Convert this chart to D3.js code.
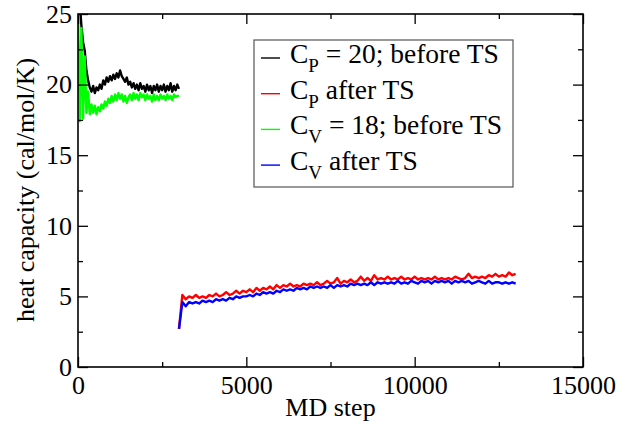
<!DOCTYPE html>
<html>
<head>
<meta charset="utf-8">
<script src="https://cdn.jsdelivr.net/npm/d3@7"></script>
<style>
  body { margin: 0; background: #fff; }
</style>
</head>
<body>
<div id="chart"></div>
<script>
const FONT = "'Liberation Serif', 'DejaVu Serif', serif";

// plot box
let margin = {top: 14, right: 58, bottom: 57, left: 78},
    width = 641 - margin.left - margin.right,
    height = 424 - margin.top - margin.bottom;

// MD steps (every 50 before TS, every 100 after TS)
let stepsBefore = d3.range(0, 3001, 50);
let stepsAfter = d3.range(3000, 13001, 100);

// C_P = 20; before TS
let cpBefore = [26.5, 25.8, 24.2, 23.0, 22.4, 21.0, 20.3, 19.8, 19.5, 19.9,
  19.4, 19.8, 19.6, 20.0, 19.7, 20.3, 20.0, 20.5, 20.2, 20.6,
  20.3, 20.7, 20.4, 20.8, 20.5, 21.0, 20.6, 20.4, 20.2, 20.5,
  20.0, 20.2, 19.8, 20.1, 19.7, 20.0, 19.6, 20.1, 19.7, 19.9,
  19.5, 20.0, 19.6, 19.9, 19.4, 19.9, 19.6, 20.0, 19.5, 19.9,
  19.6, 20.0, 19.5, 19.9, 19.6, 20.1, 19.5, 19.9, 19.6, 20.0, 19.7];

// C_V = 18; before TS
let cvBefore = [25.5, 17.4, 24.0, 17.6, 22.0, 18.0, 19.5, 17.9, 18.6, 18.0,
  18.5, 17.9, 18.4, 18.1, 18.6, 18.3, 18.8, 18.5, 19.0, 18.7,
  19.2, 18.8, 19.3, 18.9, 19.4, 19.0, 19.3, 18.8, 19.2, 18.7,
  19.1, 19.3, 18.9, 19.4, 19.0, 19.3, 18.9, 19.4, 19.1, 19.3,
  18.9, 19.3, 19.0, 19.2, 18.8, 19.3, 18.9, 19.2, 18.9, 19.3,
  19.0, 19.2, 18.9, 19.3, 19.0, 19.2, 18.9, 19.3, 19.1, 19.2, 19.2];

// C_P after TS
let cpAfter = [2.7, 5.1, 4.8, 5.0, 4.9, 5.1, 4.9, 5.0, 4.9, 5.1,
  5.0, 5.2, 5.0, 5.1, 5.3, 5.1, 5.2, 5.4, 5.2, 5.4,
  5.3, 5.5, 5.3, 5.6, 5.4, 5.6, 5.5, 5.7, 5.5, 5.8,
  5.6, 5.8, 5.7, 5.9, 5.7, 5.8, 5.7, 5.9, 5.8, 5.9,
  5.8, 6.0, 5.8, 5.9, 6.1, 5.9, 6.0, 6.3, 5.9, 6.1,
  6.0, 6.2, 6.0, 6.1, 6.4, 6.1, 6.3, 6.1, 6.5, 6.2,
  6.3, 6.2, 6.4, 6.2, 6.3, 6.2, 6.4, 6.2, 6.3, 6.2,
  6.4, 6.2, 6.3, 6.2, 6.3, 6.2, 6.4, 6.2, 6.3, 6.2,
  6.3, 6.2, 6.4, 6.3, 6.2, 6.3, 6.6, 6.3, 6.4, 6.3,
  6.4, 6.3, 6.5, 6.4, 6.6, 6.4, 6.5, 6.4, 6.7, 6.5, 6.6];

// C_V after TS
let cvAfter = [2.7, 4.6, 4.3, 4.6, 4.5, 4.6, 4.5, 4.7, 4.6, 4.7,
  4.6, 4.8, 4.7, 4.8, 4.7, 4.9, 4.8, 5.0, 4.9, 5.0,
  5.0, 5.1, 5.0, 5.2, 5.1, 5.3, 5.2, 5.3, 5.2, 5.4,
  5.3, 5.5, 5.4, 5.5, 5.4, 5.6, 5.5, 5.6, 5.5, 5.7,
  5.6, 5.7, 5.6, 5.7, 5.6, 5.8, 5.6, 5.8, 5.7, 5.8,
  5.7, 5.9, 5.8, 5.9, 5.8, 5.9, 5.8, 6.0, 5.8, 6.0,
  5.9, 6.0, 5.9, 6.0, 5.9, 6.1, 5.9, 6.0, 5.9, 6.1,
  6.0, 5.9, 6.1, 6.0, 6.1, 5.9, 6.1, 6.0, 6.1, 6.0,
  6.1, 5.9, 6.1, 6.0, 6.1, 6.0, 6.1, 5.9, 6.0, 6.1,
  6.0, 5.9, 6.1, 5.9, 6.0, 6.0, 5.9, 6.0, 5.9, 6.0, 5.9];

let xTicks = [0, 5000, 10000, 15000];
let xMinor = [2500, 7500, 12500];
let yTicks = [0, 5, 10, 15, 20, 25];
let yMinor = [2.5, 7.5, 12.5, 17.5, 22.5];

let legendNames = [["C", "P", " = 20; before TS"], ["C", "P", " after TS"],
                   ["C", "V", " = 18; before TS"], ["C", "V", " after TS"]];
let colors = ["#000000", "#ff0000", "#00ff00", "#0000ff"];

let x = d3.scaleLinear().domain([0, 15000]).range([0, width]);
let y = d3.scaleLinear().domain([0, 25]).range([height, 0]);

let svg = d3.select("#chart").append("svg")
    .attr("width", 641)
    .attr("height", 424)
    .attr("font-family", FONT)
    .append("g")
    .attr("transform", "translate(" + margin.left + "," + margin.top + ")");

svg.append("defs").append("clipPath").attr("id", "clip")
    .append("rect").attr("width", width).attr("height", height);

// series in drawing order
let series = [
    {steps: stepsBefore, vals: cpBefore, color: colors[0]},
    {steps: stepsAfter, vals: cpAfter, color: colors[1]},
    {steps: stepsBefore, vals: cvBefore, color: colors[2]},
    {steps: stepsAfter, vals: cvAfter, color: colors[3]}
];

let line = d3.line().x((d) => x(d[0])).y((d) => y(d[1]));

let plot = svg.append("g").attr("clip-path", "url(#clip)");
series.forEach(function (s) {
    plot.append("path")
        .datum(s.steps.map((st, i) => [st, s.vals[i]]))
        .attr("fill", "none")
        .attr("stroke", s.color)
        .attr("stroke-width", 2.4)
        .attr("stroke-linejoin", "round")
        .attr("d", line);
});

// axes: ticks point inward on all four sides
function styleAxis(g) {
    g.attr("font-family", FONT).attr("font-size", 26);
    g.select(".domain").remove();
    g.selectAll(".tick line").attr("stroke", "#000").attr("stroke-width", 1.3);
    g.selectAll(".tick text").attr("fill", "#000");
}

svg.append("g")
    .attr("transform", "translate(0," + height + ")")
    .call(d3.axisBottom(x).tickValues(xTicks).tickSizeInner(-10).tickPadding(9).tickFormat(d3.format("d")))
    .call(styleAxis);
svg.append("g")
    .attr("transform", "translate(0," + height + ")")
    .call(d3.axisBottom(x).tickValues(xMinor).tickSizeInner(-5).tickFormat(""))
    .call(styleAxis);
svg.append("g")
    .call(d3.axisTop(x).tickValues(xTicks).tickSizeInner(-10).tickFormat(""))
    .call(styleAxis);
svg.append("g")
    .call(d3.axisTop(x).tickValues(xMinor).tickSizeInner(-5).tickFormat(""))
    .call(styleAxis);

svg.append("g")
    .call(d3.axisLeft(y).tickValues(yTicks).tickSizeInner(-10).tickPadding(6).tickFormat(d3.format("d")))
    .call(styleAxis);
svg.append("g")
    .call(d3.axisLeft(y).tickValues(yMinor).tickSizeInner(-5).tickFormat(""))
    .call(styleAxis);
svg.append("g")
    .attr("transform", "translate(" + width + ",0)")
    .call(d3.axisRight(y).tickValues(yTicks).tickSizeInner(-10).tickFormat(""))
    .call(styleAxis);
svg.append("g")
    .attr("transform", "translate(" + width + ",0)")
    .call(d3.axisRight(y).tickValues(yMinor).tickSizeInner(-5).tickFormat(""))
    .call(styleAxis);

// frame
svg.append("rect")
    .attr("width", width)
    .attr("height", height)
    .attr("fill", "none")
    .attr("stroke", "#000")
    .attr("stroke-width", 1.6);

// axis titles
svg.append("text")
    .attr("font-size", 26)
    .attr("x", width / 2)
    .attr("y", height + 49)
    .attr("text-anchor", "middle")
    .text("MD step");
svg.append("text")
    .attr("font-size", 26)
    .attr("transform", "rotate(-90)")
    .attr("x", -176)
    .attr("y", -44)
    .attr("text-anchor", "middle")
    .text("heat capacity (cal/mol/K)");

// legend
let leg = svg.append("g").attr("transform", "translate(176,26)");
leg.append("rect")
    .attr("width", 259)
    .attr("height", 147)
    .attr("fill", "#fff")
    .attr("stroke", "#555")
    .attr("stroke-width", 1.2);
legendNames.forEach(function (n, i) {
    let row = leg.append("g").attr("transform", "translate(0," + (23 + i * 35.7) + ")");
    row.append("line")
        .attr("x1", 7).attr("x2", 26)
        .attr("y1", -5).attr("y2", -5)
        .attr("stroke", colors[i]).attr("stroke-width", 1.4);
    let t = row.append("text").attr("font-size", 27.5).attr("x", 36);
    t.append("tspan").text(n[0]);
    t.append("tspan").attr("dy", 9).attr("font-size", 19).text(n[1]);
    t.append("tspan").attr("dy", -9).text(n[2]);
});
</script>
</body>
</html>
